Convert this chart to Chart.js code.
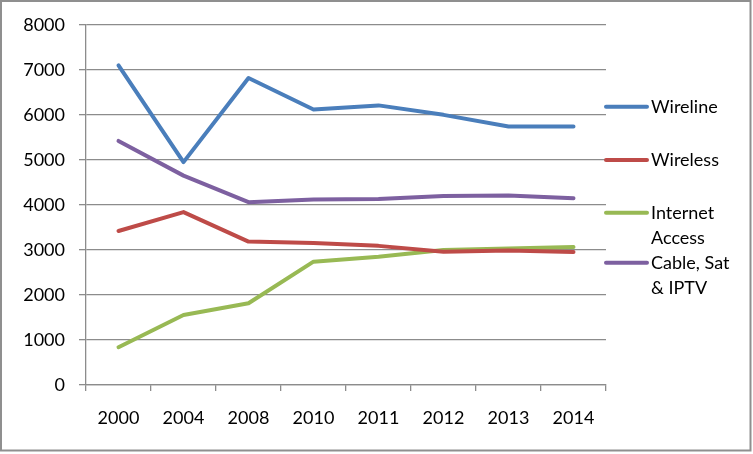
<!DOCTYPE html>
<html>
<head>
<meta charset="utf-8">
<script src="https://cdn.jsdelivr.net/npm/chart.js@4"></script>
<style>
  html, body { margin: 0; padding: 0; background: #fff; }
  #wrap { position: relative; width: 753px; height: 454px; }
</style>
</head>
<body>
<div id="wrap"><canvas id="c" width="753" height="454"></canvas></div>
<script>
const categories = ['2000', '2004', '2008', '2010', '2011', '2012', '2013', '2014'];
const wireline = [7100, 4950, 6820, 6120, 6210, 6000, 5740, 5740];
const wireless = [3420, 3840, 3185, 3155, 3090, 2960, 2985, 2955];
const internetAccess = [840, 1555, 1815, 2740, 2850, 3000, 3030, 3065];
const cableSatIptv = [5420, 4650, 4060, 4120, 4130, 4200, 4210, 4150];
const seriesNames = ['Wireline', 'Wireless', 'Internet Access', 'Cable, Sat & IPTV'];
const legendLines = [['Wireline'], ['Wireless'], ['Internet', 'Access'], ['Cable, Sat', '& IPTV']];
const yTicks = [0, 1000, 2000, 3000, 4000, 5000, 6000, 7000, 8000];

const colors = ['#4A7EBB', '#BE4B48', '#98B954', '#7D60A0'];
const FONT = 'Lato, "Open Sans", sans-serif';

function ds(label, data, color) {
  return {
    label, data,
    borderColor: color, backgroundColor: color,
    borderWidth: 4, pointRadius: 0, pointHoverRadius: 0,
    tension: 0, fill: false,
    borderCapStyle: 'round', borderJoinStyle: 'round'
  };
}

const legendPlugin = {
  id: 'customLegend',
  afterDraw(chart) {
    const ctx = chart.ctx;
    const ys = [106.7, 160, 212.7, 262.7];
    const lineH = 25.5;
    ctx.save();
    chart.data.datasets.forEach((d, i) => {
      const y = ys[i];
      ctx.strokeStyle = d.borderColor;
      ctx.lineWidth = 4;
      ctx.lineCap = 'round';
      ctx.beginPath();
      ctx.moveTo(606, y);
      ctx.lineTo(647, y);
      ctx.stroke();
      ctx.fillStyle = '#000';
      ctx.font = '18px ' + FONT;
      ctx.textBaseline = 'middle';
      ctx.textAlign = 'left';
      legendLines[i].forEach((t, j) => ctx.fillText(t, 651, y + j * lineH));
    });
    // outer frame
    ctx.strokeStyle = '#8f8f8f';
    ctx.lineWidth = 2;
    ctx.strokeRect(1, 1, 749.5, 449.5);
    ctx.restore();
  }
};

new Chart(document.getElementById('c'), {
  type: 'line',
  data: {
    labels: categories,
    datasets: [
      ds(seriesNames[0], wireline, colors[0]),
      ds(seriesNames[1], wireless, colors[1]),
      ds(seriesNames[2], internetAccess, colors[2]),
      ds(seriesNames[3], cableSatIptv, colors[3])
    ]
  },
  options: {
    responsive: false,
    animation: false,
    devicePixelRatio: 1,
    layout: { padding: { left: 0, top: 24.5, right: 147, bottom: 0 } },
    plugins: { legend: { display: false }, tooltip: { enabled: false } },
    scales: {
      x: {
        offset: true,
        grid: {
          display: true, offset: true, drawOnChartArea: false, drawTicks: true,
          tickLength: 6, color: '#8c8c8c', lineWidth: 1.3
        },
        border: { display: true, color: '#8c8c8c', width: 1.3 },
        ticks: { color: '#000', font: { family: FONT, size: 18 }, padding: 16, maxRotation: 0 },
        afterFit(scale) { scale.height = 69; }
      },
      y: {
        min: 0, max: 8000,
        afterBuildTicks(scale) { scale.ticks = yTicks.map(v => ({ value: v })); },
        grid: { color: '#8c8c8c', lineWidth: 1.3, tickLength: 7, drawTicks: true },
        border: { display: true, color: '#8c8c8c', width: 1.3 },
        ticks: { color: '#000', font: { family: FONT, size: 18 }, padding: 14, callback: v => String(v) },
        afterFit(scale) { scale.width = 86; }
      }
    }
  },
  plugins: [legendPlugin]
});
</script>
</body>
</html>
